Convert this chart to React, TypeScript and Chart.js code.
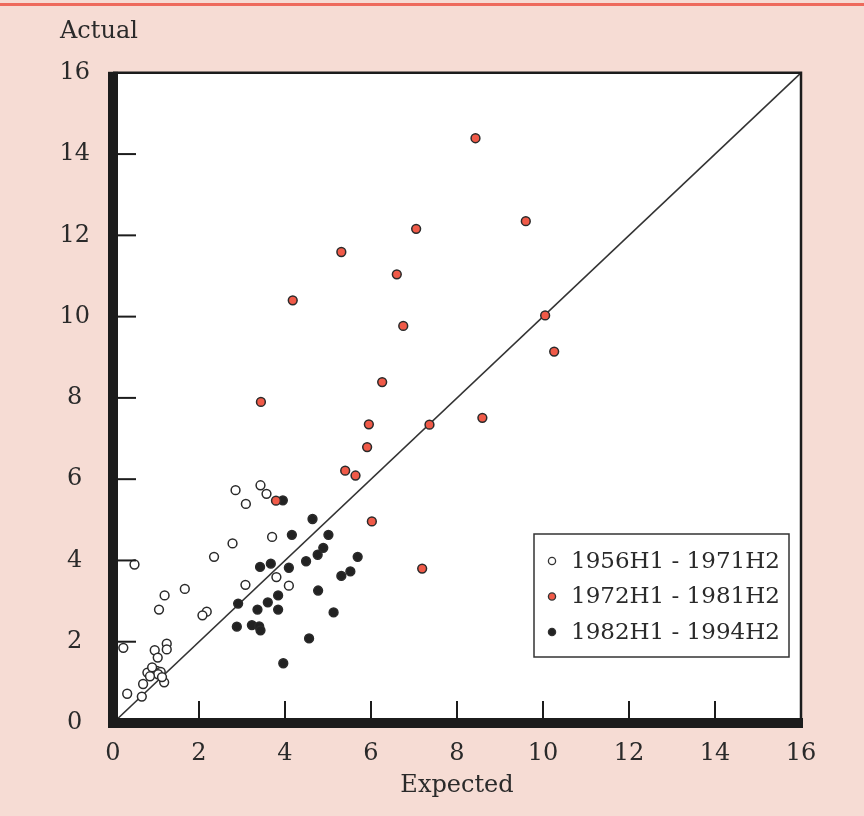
import React, { useEffect, useRef } from "react";
import { Chart, registerables } from "chart.js";

Chart.register(...registerables);

// ---- data ----
const periodLabels = ["1956H1 - 1971H2", "1972H1 - 1981H2", "1982H1 - 1994H2"];

const earlyExpected = [2.85, 3.43, 3.57, 3.09, 3.70, 2.78, 2.35, 0.50, 3.08, 3.80, 4.09, 1.67, 1.20, 1.07, 2.18, 2.08, 1.25, 1.25, 0.97, 0.24, 1.04, 0.80, 1.02, 1.11, 1.05, 1.19, 0.70, 0.33, 0.67, 0.91, 1.14, 0.86];
const earlyActual = [5.73, 5.85, 5.64, 5.39, 4.58, 4.42, 4.09, 3.90, 3.40, 3.59, 3.38, 3.30, 3.14, 2.79, 2.74, 2.65, 1.95, 1.81, 1.79, 1.85, 1.61, 1.24, 1.28, 1.26, 1.20, 1.00, 0.96, 0.72, 0.65, 1.37, 1.13, 1.15];

const midExpected = [8.43, 9.60, 7.05, 5.31, 6.60, 4.18, 10.05, 6.75, 10.26, 6.26, 3.44, 8.59, 7.36, 5.95, 5.91, 5.40, 5.64, 6.02, 7.19, 3.79];
const midActual = [14.39, 12.35, 12.16, 11.59, 11.04, 10.40, 10.03, 9.77, 9.14, 8.39, 7.90, 7.51, 7.34, 7.35, 6.79, 6.21, 6.09, 4.96, 3.80, 5.47];

const lateExpected = [3.95, 4.64, 4.16, 5.01, 4.89, 4.76, 4.49, 5.69, 3.67, 3.42, 4.09, 5.52, 5.31, 4.77, 3.84, 3.60, 2.91, 3.36, 3.84, 5.13, 2.88, 3.23, 3.40, 3.43, 4.56, 3.96];
const lateActual = [5.48, 5.02, 4.63, 4.63, 4.31, 4.14, 3.98, 4.09, 3.92, 3.84, 3.82, 3.73, 3.62, 3.26, 3.14, 2.97, 2.94, 2.79, 2.79, 2.72, 2.37, 2.41, 2.38, 2.28, 2.08, 1.47];

const axisMin = 0;
const axisMax = 16;
const axisStep = 2;
const tickValues = [2, 4, 6, 8, 10, 12, 14];
const diagonal = [0, 16];

// ---- styles ----
const FONT = "'DejaVu Serif', 'Liberation Serif', serif";
const TEXT = "#2a2a2a";
const INK = "#1c1c1c";
const BG = "#f6dcd4";
const RED = "#f05a48";
const pointFills = ["#ffffff", RED, "#222222"];

const toPoints = (xs: number[], ys: number[]) => xs.map((x, i) => ({ x, y: ys[i] }));

const framePlugin = {
  id: "frame",
  beforeDraw(chart: any) {
    const { ctx, width, height, chartArea: a } = chart;
    ctx.save();
    ctx.fillStyle = BG;
    ctx.fillRect(0, 0, width, height);
    ctx.fillStyle = "#ee6a5c";
    ctx.fillRect(0, 3, width, 3);
    ctx.fillStyle = "#ffffff";
    ctx.fillRect(a.left, a.top, a.right - a.left, a.bottom - a.top);
    ctx.restore();
  },
  afterDatasetsDraw(chart: any) {
    const { ctx, chartArea: a, scales } = chart;
    const xs = scales.x;
    const ys = scales.y;
    ctx.save();
    ctx.strokeStyle = INK;
    ctx.lineWidth = 2;
    // inside ticks
    tickValues.forEach((v) => {
      const py = ys.getPixelForValue(v);
      ctx.beginPath();
      ctx.moveTo(a.left, py);
      ctx.lineTo(a.left + 23, py);
      ctx.stroke();
      const px = xs.getPixelForValue(v);
      ctx.beginPath();
      ctx.moveTo(px, a.bottom);
      ctx.lineTo(px, a.bottom - 22);
      ctx.stroke();
    });
    // thin top & right border
    ctx.lineWidth = 2.5;
    ctx.beginPath();
    ctx.moveTo(a.left, a.top);
    ctx.lineTo(a.right, a.top);
    ctx.lineTo(a.right, a.bottom);
    ctx.stroke();
    // thick left & bottom border
    ctx.fillStyle = INK;
    ctx.fillRect(a.left - 5, a.top - 1, 10, a.bottom - a.top + 6);
    ctx.fillRect(a.left - 5, a.bottom - 5, a.right - a.left + 7, 10);
    ctx.restore();
  },
  afterDraw(chart: any) {
    const { ctx, chartArea: a } = chart;
    const bx = a.right - 267;
    const by = a.bottom - 189;
    const bw = 255;
    const bh = 123;
    ctx.save();
    ctx.fillStyle = "#ffffff";
    ctx.fillRect(bx, by, bw, bh);
    ctx.strokeStyle = "#333333";
    ctx.lineWidth = 1.5;
    ctx.strokeRect(bx, by, bw, bh);
    ctx.font = `23px ${FONT}`;
    ctx.textBaseline = "middle";
    ctx.textAlign = "left";
    chart.data.datasets.slice(0, 3).forEach((ds: any, i: number) => {
      const cy = by + 27 + i * 35.5;
      ctx.beginPath();
      ctx.arc(bx + 18, cy, 3.6, 0, Math.PI * 2);
      ctx.fillStyle = ds.backgroundColor;
      ctx.fill();
      ctx.lineWidth = 1.3;
      ctx.strokeStyle = "#333333";
      ctx.stroke();
      ctx.fillStyle = TEXT;
      ctx.fillText(ds.label, bx + 37, cy + 1);
    });
    ctx.restore();
  },
};

export default function App() {
  const ref = useRef<HTMLCanvasElement | null>(null);

  useEffect(() => {
    if (!ref.current) return;
    const pointStyle = (i: number) => ({
      backgroundColor: pointFills[i],
      borderColor: "#2a2a2a",
      borderWidth: 1.5,
      pointRadius: 4.4,
      pointHoverRadius: 4.4,
      showLine: false,
    });
    const chart = new Chart(ref.current, {
      type: "scatter",
      data: {
        datasets: [
          { label: periodLabels[0], data: toPoints(earlyExpected, earlyActual), ...pointStyle(0) },
          { label: periodLabels[1], data: toPoints(midExpected, midActual), ...pointStyle(1) },
          { label: periodLabels[2], data: toPoints(lateExpected, lateActual), ...pointStyle(2) },
          {
            type: "line",
            label: "45°",
            data: toPoints(diagonal, diagonal),
            borderColor: "#333333",
            borderWidth: 1.6,
            pointRadius: 0,
            showLine: true,
            fill: false,
          } as any,
        ],
      },
      options: {
        responsive: false,
        animation: false,
        events: [],
        layout: { padding: { left: 60, right: 63, top: 0, bottom: 0 } },
        plugins: {
          legend: { display: false },
          tooltip: { enabled: false },
          title: {
            display: true,
            text: "Actual",
            align: "start",
            color: TEXT,
            font: { family: FONT, size: 24, weight: "normal" },
            padding: { top: 17, bottom: 27 },
          },
        },
        scales: {
          x: {
            type: "linear",
            position: "bottom",
            min: axisMin,
            max: axisMax,
            ticks: {
              stepSize: axisStep,
              color: TEXT,
              font: { family: FONT, size: 24 },
              padding: 16,
              maxRotation: 0,
              autoSkip: false,
            },
            grid: { display: false, drawTicks: false },
            border: { display: false },
            title: {
              display: true,
              text: "Expected",
              color: TEXT,
              font: { family: FONT, size: 24 },
              padding: { top: 0, bottom: 16 },
            },
            afterFit: (s: any) => {
              s.height = 93;
            },
          },
          y: {
            type: "linear",
            position: "left",
            min: axisMin,
            max: axisMax,
            ticks: {
              stepSize: axisStep,
              color: TEXT,
              font: { family: FONT, size: 24 },
              padding: 23,
              crossAlign: "center",
              autoSkip: false,
            },
            grid: { display: false, drawTicks: false },
            border: { display: false },
            afterFit: (s: any) => {
              s.width = 53;
            },
          },
        },
      } as any,
      plugins: [framePlugin],
    });
    return () => chart.destroy();
  }, []);

  return (
    <div style={{ position: "absolute", left: 0, top: 0, width: 864, height: 816 }}>
      <canvas ref={ref} width={864} height={816} style={{ display: "block" }} />
    </div>
  );
}
